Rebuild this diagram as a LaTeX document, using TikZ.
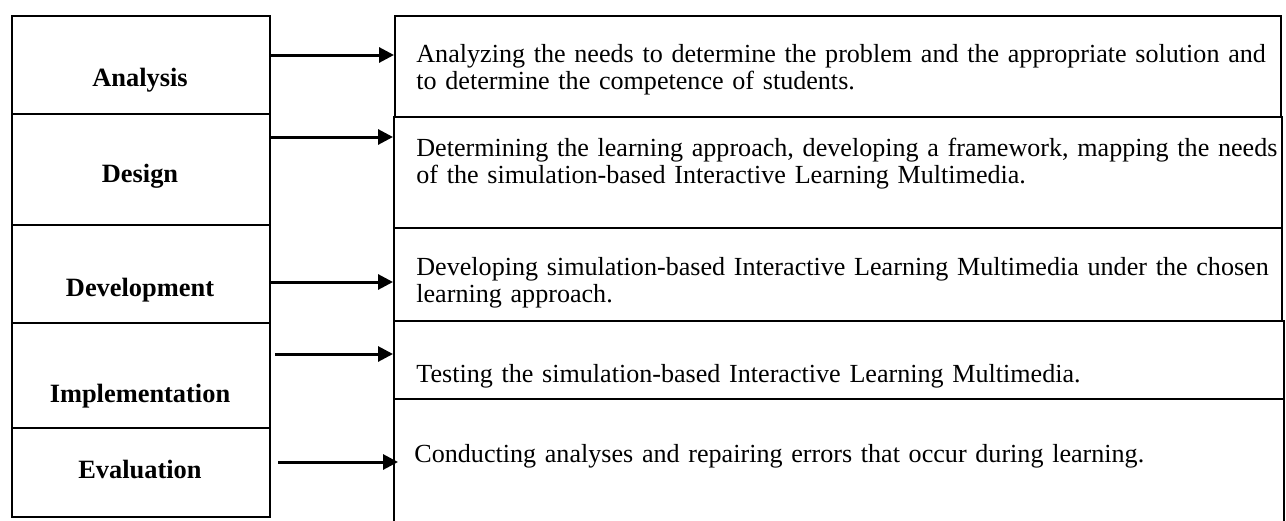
\documentclass[tikz,border=0pt]{standalone}
\usepackage{fontspec}
\setmainfont{Liberation Serif}
\usetikzlibrary{arrows.meta}
\begin{document}
\begin{tikzpicture}[x=0.5pt,y=-0.5pt,
  lbox/.style={draw,line width=1.2pt,minimum width=129pt,inner sep=0pt,anchor=north west},
  rbox/.style={draw,line width=1pt,inner sep=0pt,anchor=north west},
  ltext/.style={font=\fontsize{13.2}{15}\selectfont\bfseries,anchor=base,inner sep=0pt},
  rtext/.style={font=\fontsize{13.05}{13.5}\selectfont,anchor=base west,inner sep=0pt,text width=440pt,align=left},
  arr/.style={line width=1.5pt,-{Triangle[length=7.5pt,width=7.5pt]}}]
\useasboundingbox (0,0) rectangle (1286,520);
% left boxes
\node[lbox,minimum height=49pt] (a) at (11,15) {};
\node[lbox,minimum height=55.5pt] (d) at (11,113) {};
\node[lbox,minimum height=49pt] (v) at (11,224) {};
\node[lbox,minimum height=52.5pt] (i) at (11,322) {};
\node[lbox,minimum height=44.5pt] (e) at (11,427) {};
\node[ltext] (ta) at (140,86) {Analysis};
\node[ltext] (td) at (140,182) {Design};
\node[ltext] (tv) at (140,296) {Development};
\node[ltext] (ti) at (140,402) {Implementation};
\node[ltext] (te) at (140,478) {Evaluation};
% right boxes
\node[rbox,minimum width=443pt,minimum height=50.5pt] (ra) at (394,15) {};
\node[rbox,minimum width=444pt,minimum height=55.5pt] (rd) at (393,116) {};
\node[rbox,minimum width=444pt,minimum height=46.5pt] (rv) at (393,227) {};
\node[rbox,minimum width=445pt,minimum height=39pt] (ri) at (393,320) {};
\node[rbox,minimum width=445pt,minimum height=65pt] (re) at (393,398) {};
\node[rtext] (sa) at (416,62) {Analyzing the needs to determine the problem and the appropriate solution and\\to determine the competence of students.};
\node[rtext] (sd) at (416,156) {Determining the learning approach, developing a framework, mapping the needs\\of the simulation-based Interactive Learning Multimedia.};
\node[rtext] (sv) at (416,275) {Developing simulation-based Interactive Learning Multimedia under the chosen\\learning approach.};
\node[rtext] (si) at (416,382) {Testing the simulation-based Interactive Learning Multimedia.};
\node[rtext] (se) at (414,462) {Conducting analyses and repairing errors that occur during learning.};
% arrows
\draw[arr] (a.east |- 0,55) -- (ra.west |- 0,55);
\draw[arr] (d.east |- 0,137) -- (rd.west |- 0,137);
\draw[arr] (v.east |- 0,282) -- (rv.west |- 0,282);
\draw[arr] ([xshift=2pt]i.east |- 0,354) -- (ri.west |- 0,354);
\draw[arr] ([xshift=3.5pt]e.east |- 0,462) -- ([xshift=2.5pt]re.west |- 0,462);
\end{tikzpicture}
\end{document}
